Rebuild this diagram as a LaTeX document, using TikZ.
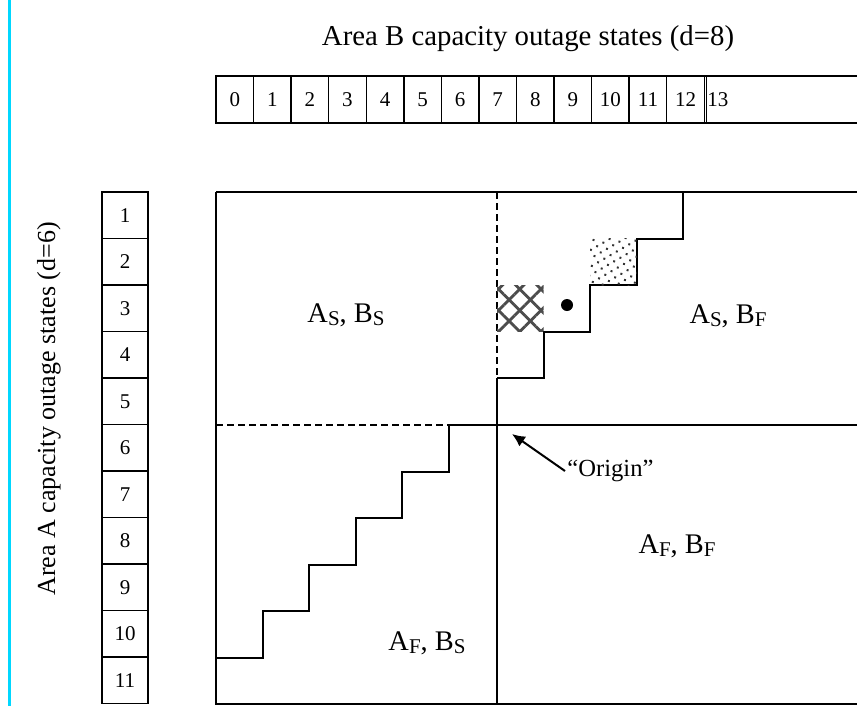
\documentclass[tikz,border=0pt]{standalone}
\usepackage{fontspec}
\setmainfont{Liberation Serif}
\usetikzlibrary{arrows.meta, patterns.meta}

\definecolor{guide}{RGB}{0,215,255}
\newcommand{\lowcap}[1]{\raisebox{-0.3ex}{\fontsize{10.5}{12}\selectfont #1}}

\begin{document}
\begin{tikzpicture}[x=0.5pt, y=-0.5pt,
    cellB/.style={draw, line width=0.7pt, minimum width=18.78pt, minimum height=23.5pt,
                  inner sep=0pt, outer sep=0pt, font=\fontsize{10.5}{12}\selectfont},
    cellA/.style={draw, line width=0.7pt, minimum width=23pt, minimum height=23.25pt,
                  inner sep=0pt, outer sep=0pt, font=\fontsize{10.5}{12}\selectfont},
    border/.style={line width=1pt},
    split/.style={line width=1pt, dash pattern=on 3.5pt off 2pt},
    region/.style={anchor=base, inner sep=0pt, font=\fontsize{14.2}{16}\selectfont},
    axis/.style={anchor=base, inner sep=0pt},
    pointer/.style={-{Latex[length=6.5pt, width=6pt]}, line width=1pt}
]
\useasboundingbox (0,0) rectangle (857,724);
\draw[guide, line width=1.1pt] (9.5,0) -- (9.5,706);

% area B states (columns)
\node[axis, font=\fontsize{14.4}{17}\selectfont] (titleB) at (528,45) {Area B capacity outage states (d=8)};
\foreach \i in {0,...,12}
  \node[cellB] (b\i) at ({216+37.56*(\i+0.5)},99.5) {\i};
\node[anchor=west, inner sep=0pt, font=\fontsize{10.5}{12}\selectfont] (b13) at (707,99.5) {13};
\draw[line width=0.7pt] (b12.north east) -- (857,76);
\draw[line width=0.7pt] (b12.south east) -- (857,123);
\draw[line width=0.7pt] (706.5,76) -- (706.5,123);

% area A states (rows)
\node[axis, rotate=90, font=\fontsize{13}{15}\selectfont] (titleA) at (55,409) {Area A capacity outage states (d=6)};
\foreach \j in {1,...,11}
  \node[cellA] (a\j) at (125,{192+46.5*(\j-0.5)}) {\j};

% state space
\draw[border] (216,192) -- (857,192);
\draw[border] (216,192) -- (216,703.5) -- (857,703.5);
\draw[split] (497,192) -- (497,378);
\draw[border] (497,378) -- (497,703.5);
\draw[split] (216,425) -- (449,425);
\draw[border] (449,425) -- (857,425);

% staircases
\draw[border] (216,657.5) -| (262.6,611) -| (309.2,564.5) -| (355.8,518)
              -| (402.4,471.5) -| (449,425);
\draw[border] (497,378) -| (543.6,331.5) -| (590.2,285) -| (636.8,238.5) -| (683.4,192);

% shaded states
\fill[pattern={Lines[angle=45, distance=7.5pt, line width=1.4pt]}, pattern color=black!70]
  (497,285) rectangle (543.6,331.5);
\fill[pattern={Lines[angle=-45, distance=7.5pt, line width=1.4pt]}, pattern color=black!70]
  (497,285) rectangle (543.6,331.5);
\fill[pattern={Dots[distance=3.6pt, radius=0.7pt, angle=30]}, pattern color=black!80]
  (590.2,238.5) rectangle (636.8,285);
\node[circle, fill, inner sep=0pt, minimum size=6pt] (state) at (567,305) {};

% regions
\node[region] (SS) at (346,322) {A\lowcap{S}, B\lowcap{S}};
\node[region] (SF) at (728,323) {A\lowcap{S}, B\lowcap{F}};
\node[region] (FF) at (677,553) {A\lowcap{F}, B\lowcap{F}};
\node[region] (FS) at (427,650) {A\lowcap{F}, B\lowcap{S}};

% origin
\coordinate (origin) at (512,434);
\node[anchor=west, inner sep=1pt, font=\fontsize{12.3}{14}\selectfont] (originTxt) at (565,471) {``Origin''};
\draw[pointer] (originTxt.west) -- (origin);
\end{tikzpicture}
\end{document}
